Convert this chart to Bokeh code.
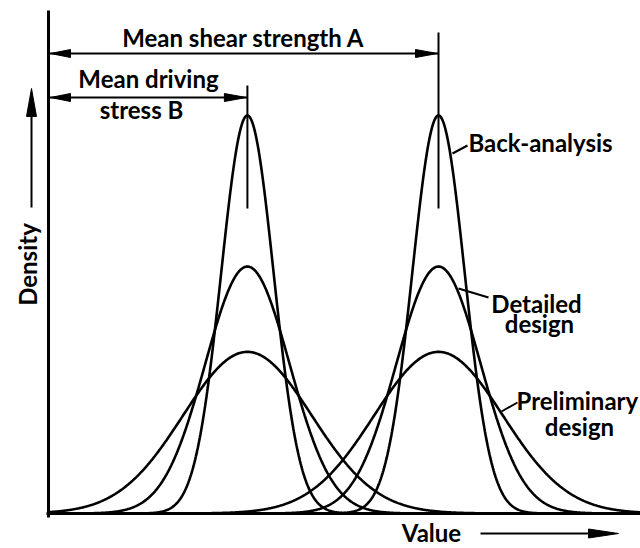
import numpy as np
from bokeh.plotting import figure
from bokeh.models import Range1d
from bokeh.core.properties import value
from bokeh.embed import file_html
from bokeh.resources import INLINE

# ---------------- data ----------------
mean_names = ["Mean driving stress B", "Mean shear strength A"]
means = [5.1, 10.0]                      # B, A (value units)
design_stages = ["Back-analysis", "Detailed design", "Preliminary design"]
std_devs = [0.67, 1.08, 1.65]            # spread of each stage
value_extent = [0.0, 15.5]

# ---------------- layout helpers (page px -> data) ----------------
W, H = 640, 548
X0_PX, PX_PER_X = 48.0, 39.0
Y0_PX, PX_PER_Y = 513.0, 668.5
TXT_DY = -10   # compensation for the text baseline placement


def X(px):
    return (px - X0_PX) / PX_PER_X


def Y(py):
    return (Y0_PX - py) / PX_PER_Y


p = figure(width=W, height=H, output_backend="svg", toolbar_location=None,
           x_axis_type=None, y_axis_type=None,
           x_range=Range1d(X(0), X(W)), y_range=Range1d(Y(H), Y(0)),
           min_border=0, min_border_left=0, min_border_right=0,
           min_border_top=0, min_border_bottom=0)
p.outline_line_color = None
p.grid.visible = False
p.background_fill_color = "white"
p.border_fill_color = "white"

INK = "black"

# ---------------- density curves ----------------
xs = np.linspace(value_extent[0], value_extent[1], 900)
for m in means:
    for sd in std_devs:
        pdf = np.exp(-0.5 * ((xs - m) / sd) ** 2) / (sd * np.sqrt(2 * np.pi))
        p.line(xs, pdf, line_color=INK, line_width=2.6)

# ---------------- axes ----------------
p.line([X(48), X(48)], [Y(517), Y(10)], line_color=INK, line_width=3)
p.line([X(46), X(640)], [0, 0], line_color=INK, line_width=3)

# ---------------- mean markers & dimension arrows ----------------
top_px = {0: 85, 1: 32}
arrow_py = {0: 97, 1: 53}
for i, m in enumerate(means):
    p.segment(x0=[m], y0=[Y(208)], x1=[m], y1=[Y(top_px[i])],
              line_color=INK, line_width=2)
    p.segment(x0=[X(48)], y0=[Y(arrow_py[i])], x1=[m], y1=[Y(arrow_py[i])],
              line_color=INK, line_width=1.8)


def head(tx, ty, direction, length, half):
    """triangle arrowhead, tip at page px (tx, ty)"""
    if direction == "left":
        pts = [(tx, ty), (tx + length, ty - half), (tx + length, ty + half)]
    elif direction == "right":
        pts = [(tx, ty), (tx - length, ty - half), (tx - length, ty + half)]
    else:  # up
        pts = [(tx, ty), (tx - half, ty + length), (tx + half, ty + length)]
    return [X(a) for a, _ in pts], [Y(b) for _, b in pts]


heads = []
for i, m in enumerate(means):
    mpx = X0_PX + m * PX_PER_X
    heads.append(head(50, arrow_py[i], "left", 20, 4))
    heads.append(head(mpx - 1, arrow_py[i], "right", 22, 4))
heads.append(head(31, 88, "up", 28, 5))          # density arrow
heads.append(head(618, 533, "right", 30, 4.5))   # value arrow
p.patches([h[0] for h in heads], [h[1] for h in heads],
          fill_color=INK, line_color=INK, line_width=1)

# axis-title arrows
p.segment(x0=[X(31)], y0=[Y(207)], x1=[X(31)], y1=[Y(100)],
          line_color=INK, line_width=2)
p.segment(x0=[X(480)], y0=[Y(533)], x1=[X(600)], y1=[Y(533)],
          line_color=INK, line_width=1.8)

# leader lines from curves to labels
p.segment(x0=[X(452), X(458), X(501)], y0=[Y(153), Y(288), Y(411)],
          x1=[X(467), X(488), X(517)], y1=[Y(145), Y(297), Y(402)],
          line_color=INK, line_width=2)

# ---------------- texts ----------------
FONT = value("Lato")
FS = "24px"
center_texts = ["Mean shear strength A", "Mean driving", "stress B",
                "Detailed", "design", "design", "Value"]
center_x = [243, 148, 141, 536, 539, 579, 431]
center_y = [47, 88, 119, 313, 333, 436, 542]
p.text(x=[X(v) for v in center_x], y=[Y(v + TXT_DY) for v in center_y],
       text=center_texts,
       text_font=FONT, text_font_style="bold", text_font_size=FS,
       text_align="center", text_baseline="alphabetic", text_color=INK)

left_texts = ["Back-analysis", "Preliminary"]
left_x = [468, 516]
left_y = [152, 410]
p.text(x=[X(v) for v in left_x], y=[Y(v + TXT_DY) for v in left_y],
       text=left_texts,
       text_font=FONT, text_font_style="bold", text_font_size=FS,
       text_align="left", text_baseline="alphabetic", text_color=INK)

p.text(x=[X(37 + TXT_DY)], y=[Y(264)], text=["Density"], angle=np.pi / 2,
       text_font=FONT, text_font_style="bold", text_font_size=FS,
       text_align="center", text_baseline="alphabetic", text_color=INK)

open("out.html", "w").write(file_html(p, INLINE))
